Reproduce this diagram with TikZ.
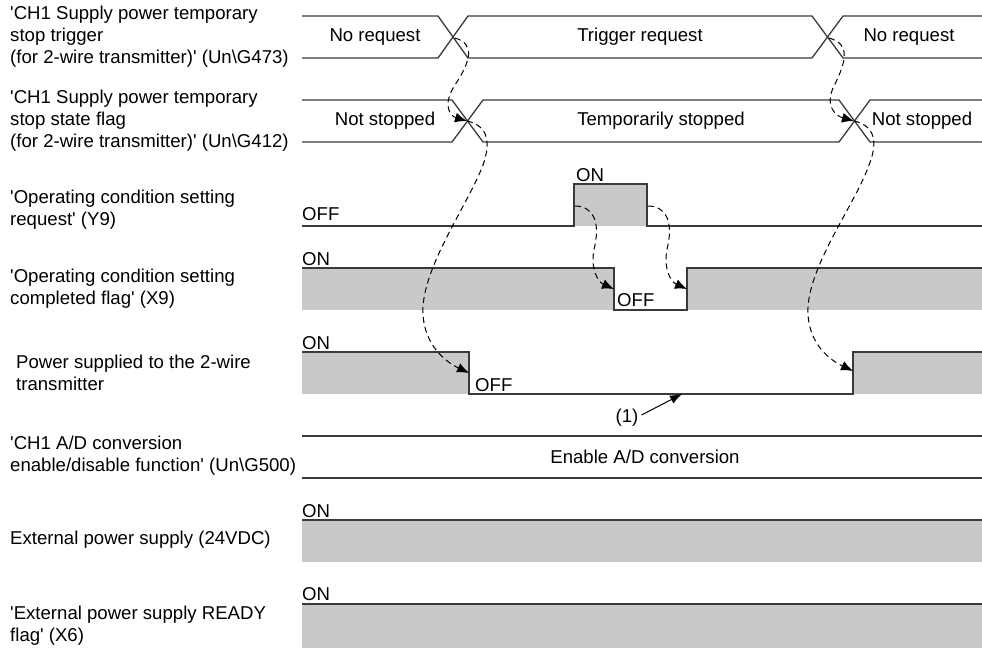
\documentclass[tikz,border=0pt]{standalone}
\usepackage{fontspec}
\setmainfont{Liberation Sans}
\usetikzlibrary{arrows.meta,positioning}
\definecolor{sigline}{HTML}{3A3A3A}
\definecolor{sigfill}{HTML}{C8C9CB}
\newcommand{\apos}{\textquotesingle}

\begin{document}
\begin{tikzpicture}[
  x=1pt,y=-1pt,
  lbl/.style={anchor=west,align=left,inner sep=0pt,font=\fontsize{18.6}{22}\selectfont},
  val/.style={inner sep=0pt,font=\fontsize{18.6}{22}\selectfont},
  lvl/.style={val,anchor=base west},
  sig/.style={draw=sigline,line width=1.3pt,line join=miter},
  dep/.style={-{Latex[length=12pt,width=10pt]},dash pattern=on 6pt off 4pt,line width=1pt,black},
  ann/.style={-{Latex[length=12pt,width=9pt]},line width=1pt,black}
]
\useasboundingbox (0,0) rectangle (982,648);

\node[lbl] (trig) at (10,37) {\apos CH1 Supply power temporary\\stop trigger\\(for 2-wire transmitter)\apos{} (Un\textbackslash G473)};
\node[lbl] (flag) at (10,121) {\apos CH1 Supply power temporary\\stop state flag\\(for 2-wire transmitter)\apos{} (Un\textbackslash G412)};
\node[lbl] (req) at (10,210) {\apos Operating condition setting\\request\apos{} (Y9)};
\node[lbl] (done) at (10,289) {\apos Operating condition setting\\completed flag\apos{} (X9)};
\node[lbl] (pwr) at (16,373) {Power supplied to the 2-wire\\transmitter};
\node[lbl] (adc) at (10,456) {\apos CH1 A/D conversion\\enable/disable function\apos{} (Un\textbackslash G500)};
\node[lbl] (ext) at (10,540) {External power supply (24VDC)};
\node[lbl] (ready) at (10,626) {\apos External power supply READY\\flag\apos{} (X6)};

\draw[sig] (302,16) -- (438,16) -- (468,58) -- (812,58) -- (843,16) -- (982,16);
\draw[sig] (302,58) -- (438,58) -- (468,16) -- (812,16) -- (843,58) -- (982,58);
\node[val] (trignoa) at (375,37) {No request};
\node[val] (trigyes) at (640,37) {Trigger request};
\node[val] (trignob) at (909,37) {No request};

\draw[sig] (302,100) -- (452,100) -- (483,142) -- (839,142) -- (870,100) -- (982,100);
\draw[sig] (302,142) -- (452,142) -- (483,100) -- (839,100) -- (870,142) -- (982,142);
\node[val] (flagruna) at (385,121) {Not stopped};
\node[val] (flagstop) at (661,121) {Temporarily stopped};
\node[val] (flagrunb) at (922,121) {Not stopped};

\fill[sigfill] (574,184) rectangle (647,226);
\draw[sig] (302,226) -- (574,226) -- (574,184) -- (647,184) -- (647,226) -- (982,226);
\node[lvl] (reqoff) at (302,220) {OFF};
\node[lvl] (reqon) at (576,181) {ON};

\fill[sigfill] (302,268) rectangle (614,310);
\fill[sigfill] (687,268) rectangle (982,310);
\draw[sig] (302,268) -- (614,268) -- (614,310) -- (687,310) -- (687,268) -- (982,268);
\node[lvl] (doneon) at (302,265) {ON};
\node[lvl] (doneoff) at (617,306) {OFF};

\fill[sigfill] (302,352) rectangle (469,394);
\fill[sigfill] (853,352) rectangle (982,394);
\draw[sig] (302,352) -- (469,352) -- (469,394) -- (853,394) -- (853,352) -- (982,352);
\node[lvl] (pwron) at (302,349) {ON};
\node[lvl] (pwroff) at (475,391) {OFF};

\node[val] (one) at (627,418) {(1)};
\coordinate (gap) at (682,394);
\draw[ann] (one.east) ++(3,-3) -- (gap);

\draw[sig] (302,436) -- (982,436);
\draw[sig] (302,478) -- (982,478);
\node[val] (adcon) at (645,457) {Enable A/D conversion};

\fill[sigfill] (302,520) rectangle (982,562);
\draw[sig] (302,520) -- (982,520);
\node[lvl] (exton) at (302,517) {ON};

\fill[sigfill] (302,604) rectangle (982,648);
\draw[sig] (302,604) -- (982,604);
\node[lvl] (readyon) at (302,600) {ON};

\coordinate (trigxa) at (455,38);
\coordinate (flagxa) at (467,121);
\coordinate (trigxb) at (829,38);
\coordinate (flagxb) at (854,121);
\coordinate (requp) at (575,206);
\coordinate (reqdown) at (648,206);
\coordinate (donedown) at (614,289);
\coordinate (doneup) at (687,289);
\coordinate (pwrdown) at (469,373);
\coordinate (pwrup) at (853,371);

\draw[dep] (trigxa) .. controls (476,44) and (470,62) .. (455,85) .. controls (442,105) and (450,116) .. (flagxa);
\draw[dep] (flagxa) .. controls (490,126) and (490,145) .. (483,165) .. controls (468,205) and (420,270) .. (423,315) .. controls (425,346) and (446,362) .. (pwrdown);
\draw[dep] (trigxb) .. controls (851,44) and (846,62) .. (834,86) .. controls (824,106) and (836,116) .. (flagxb);
\draw[dep] (flagxb) .. controls (877,126) and (877,145) .. (869,165) .. controls (855,205) and (805,270) .. (808,315) .. controls (810,345) and (830,360) .. (pwrup);
\draw[dep] (requp) .. controls (592,206) and (600,220) .. (595,245) .. controls (589,268) and (598,282) .. (donedown);
\draw[dep] (reqdown) .. controls (665,206) and (673,220) .. (668,245) .. controls (662,268) and (671,282) .. (doneup);
\end{tikzpicture}
\end{document}
